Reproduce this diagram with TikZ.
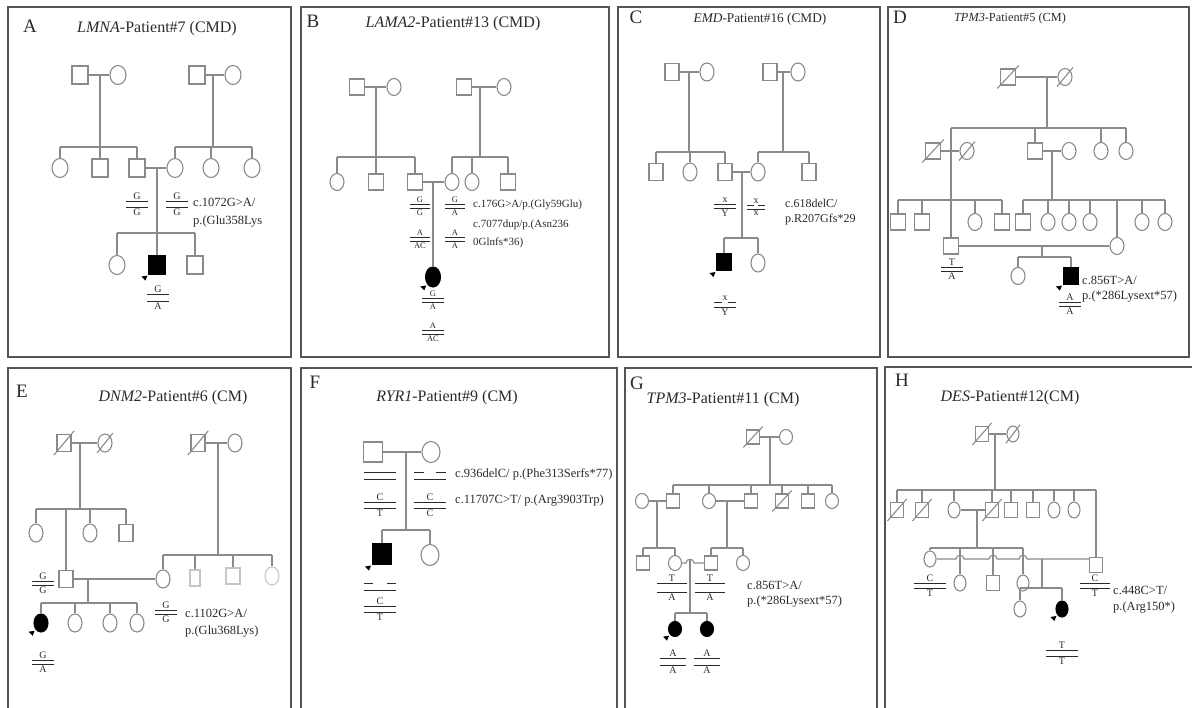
\documentclass[tikz,border=0pt]{standalone}
\usepackage{fontspec}
\setmainfont{Liberation Serif}
\usepackage{tikz}
\usetikzlibrary{shapes.geometric, calc}

\definecolor{pedgray}{HTML}{8A8A8A}
\definecolor{framegray}{HTML}{555555}
\definecolor{inkgray}{HTML}{2A2A2A}

\tikzstyle{male} = [rectangle, draw=pedgray, line width=1.1pt, inner sep=0pt, minimum width=16pt, minimum height=17pt]
\tikzstyle{female} = [ellipse, draw=pedgray, line width=1.1pt, inner sep=0pt, minimum width=15pt, minimum height=19pt]
\tikzstyle{affected} = [fill=black, draw=black]
\tikzstyle{faded} = [draw=pedgray!50]
\tikzstyle{link} = [draw=pedgray, line width=1.1pt]
\tikzstyle{dead} = [append after command={(\tikzlastnode.south west) edge[link, shorten <=-4pt, shorten >=-4pt] (\tikzlastnode.north east)}]
\tikzstyle{panel} = [draw=framegray, line width=1.3pt]
\tikzstyle{tag} = [inner sep=0pt, text=inkgray, font=\fontsize{19}{19}\selectfont]
\tikzstyle{title} = [inner sep=0pt, text=inkgray, font=\fontsize{16}{16}\selectfont]
\tikzstyle{note} = [inner sep=0pt, anchor=west, text=inkgray, font=\fontsize{12.5}{12.5}\selectfont]
\tikzstyle{allele} = [inner sep=0pt, text=inkgray, font=\fontsize{10}{10}\selectfont]
\tikzstyle{bar} = [draw=inkgray, line width=0.9pt]

% genotype: letter, double bar, letter
\newcommand{\genow}{11}
\newcommand{\genog}{5}
\tikzset{
  gw/.code={\def\genow{#1}},
  gg/.code={\def\genog{#1}},
  firstbar/.style={},
  pics/geno/.style 2 args={code={
    \node[allele, anchor=south] (-up) at (0,-1.5) {#1};
    \draw[bar, firstbar] (-\genow,0) -- (\genow,0);
    \draw[bar] (-\genow,\genog) -- (\genow,\genog);
    \node[allele, anchor=north] (-down) at (0,\genog+1.5) {#2};
  }}
}

% sibship line: #1 level coordinate, #2 first, #3 last, #4 children
\newcommand{\sibline}[4]{%
  \draw[link] (#2 |- #1) -- (#3 |- #1);
  \foreach \k in {#4} \draw[link] (\k) -- (\k |- #1);
}
% proband pointer
\newcommand{\pointer}[1]{\fill[black] ($(#1.south west)+(-1,1)$) -- +(-6,1) -- +(-2,5) -- cycle;}

\begin{document}
\begin{tikzpicture}[x=1pt, y=-1pt]
\useasboundingbox (0,0) rectangle (1192,708);
\clip (0,0) rectangle (1192,708);

% ---------------- A
\draw[panel] (8,7) rectangle (291,357);
\node[tag] (tagA) at (30,26) {A};
\node[title] (titleA) at (157,29) {\textit{LMNA}-Patient\#7 (CMD)};
\begin{scope}[male/.append style={minimum width=16pt, minimum height=18pt}, female/.append style={minimum width=16pt, minimum height=19pt}]
\node[male] (a11) at (80,75) {};
\node[female] (a12) at (118,75) {};
\node[male] (a13) at (197,75) {};
\node[female] (a14) at (233,75) {};
\node[female] (a21) at (60,168) {};
\node[male] (a22) at (100,168) {};
\node[male] (a23) at (137,168) {};
\node[female] (a24) at (175,168) {};
\node[female] (a25) at (211,168) {};
\node[female] (a26) at (252,168) {};
\node[female] (a31) at (117,265) {};
\node[male, affected] (a32) at (157,265) {};
\node[male] (a33) at (195,265) {};
\end{scope}
\coordinate (ma1) at (100,75); \coordinate (sa1) at (100,147);
\coordinate (ma2) at (213,75); \coordinate (sa2) at (213,147);
\coordinate (ma3) at (157,168); \coordinate (sa3) at (157,233);
\draw[link] (a11) -- (a12);
\draw[link] (a13) -- (a14);
\draw[link] (a23) -- (a24);
\draw[link] (ma1) -- (sa1);
\draw[link] (ma2) -- (sa2);
\draw[link] (ma3) -- (sa3);
\sibline{sa1}{a21}{a23}{a21,a22,a23}
\sibline{sa2}{a24}{a26}{a24,a25,a26}
\sibline{sa3}{a31}{a33}{a31,a32,a33}
\pointer{a32}
\pic[gg=6] (ga1) at (137,201) {geno={G}{G}};
\pic[gg=6] (ga2) at (177,201) {geno={G}{G}};
\pic[gg=7] (ga3) at (158,294) {geno={G}{A}};
\node[note] (na1) at (193,202) {c.1072G>A/};
\node[note] (na2) at (193,222) {p.(Glu358Lys};

% ---------------- B
\draw[panel] (301,7) rectangle (609,357);
\node[tag] (tagB) at (313,21) {B};
\node[title] (titleB) at (453,24) {\textit{LAMA2}-Patient\#13 (CMD)};
\begin{scope}[male/.append style={minimum width=15pt, minimum height=16pt}, female/.append style={minimum width=14pt, minimum height=17pt}]
\node[male] (b11) at (357,87) {};
\node[female] (b12) at (394,87) {};
\node[male] (b13) at (464,87) {};
\node[female] (b14) at (504,87) {};
\node[female] (b21) at (337,182) {};
\node[male] (b22) at (376,182) {};
\node[male] (b23) at (415,182) {};
\node[female] (b24) at (452,182) {};
\node[female] (b25) at (472,182) {};
\node[male] (b26) at (508,182) {};
\node[female, affected, minimum width=15pt, minimum height=20pt] (b31) at (433,277) {};
\end{scope}
\coordinate (mb1) at (376,87); \coordinate (sb1) at (376,157);
\coordinate (mb2) at (480,87); \coordinate (sb2) at (480,157);
\coordinate (mb3) at (433,182);
\draw[link] (b11) -- (b12);
\draw[link] (b13) -- (b14);
\draw[link] (b23) -- (b24);
\draw[link] (mb1) -- (sb1);
\draw[link] (mb2) -- (sb2);
\draw[link] (mb3) -- (b31);
\sibline{sb1}{b21}{b23}{b21,b22,b23}
\sibline{sb2}{b24}{b26}{b24,b25,b26}
\pointer{b31}
\begin{scope}[allele/.append style={font=\fontsize{8.5}{8.5}\selectfont}]
\pic[gw=10, gg=4] (gb1) at (420,204) {geno={G}{G}};
\pic[gw=10, gg=4] (gb2) at (420,237) {geno={A}{AC}};
\pic[gw=10, gg=4] (gb3) at (455,204) {geno={G}{A}};
\pic[gw=10, gg=4] (gb4) at (455,237) {geno={A}{A}};
\pic[gw=11, gg=4] (gb5) at (433,298) {geno={G}{A}};
\pic[gw=11, gg=4] (gb6) at (433,330) {geno={A}{AC}};
\end{scope}
\begin{scope}[note/.append style={font=\fontsize{11}{11}\selectfont}]
\node[note] (nb1) at (473,205) {c.176G>A/p.(Gly59Glu)};
\node[note] (nb2) at (473,225) {c.7077dup/p.(Asn236};
\node[note] (nb3) at (473,243) {0Glnfs*36)};
\end{scope}

% ---------------- C
\draw[panel] (618,7) rectangle (880,357);
\node[tag] (tagC) at (636,17) {C};
\node[title, font=\fontsize{13.3}{13.3}\selectfont] (titleC) at (760,19) {\textit{EMD}-Patient\#16 (CMD)};
\begin{scope}[male/.append style={minimum width=14pt, minimum height=17pt}, female/.append style={minimum width=14pt, minimum height=18pt}]
\node[male] (c11) at (672,72) {};
\node[female] (c12) at (707,72) {};
\node[male] (c13) at (770,72) {};
\node[female] (c14) at (798,72) {};
\node[male] (c21) at (656,172) {};
\node[female] (c22) at (690,172) {};
\node[male] (c23) at (725,172) {};
\node[female] (c24) at (758,172) {};
\node[male] (c25) at (809,172) {};
\node[male, affected] (c31) at (724,262) {};
\node[female] (c32) at (758,263) {};
\end{scope}
\coordinate (mc1) at (689,72); \coordinate (sc1) at (689,152);
\coordinate (mc2) at (783,72); \coordinate (sc2) at (783,152);
\coordinate (mc3) at (742,172); \coordinate (sc3) at (742,238);
\draw[link] (c11) -- (c12);
\draw[link] (c13) -- (c14);
\draw[link] (c23) -- (c24);
\draw[link] (mc1) -- (sc1);
\draw[link] (mc2) -- (sc2);
\draw[link] (mc3) -- (sc3);
\sibline{sc1}{c21}{c23}{c21,c22,c23}
\sibline{sc2}{c24}{c25}{c24,c25}
\sibline{sc3}{c31}{c32}{c31,c32}
\pointer{c31}
\pic[gw=11, gg=4] (gc1) at (725,204) {geno={x}{Y}};
\pic[gw=9, gg=4, firstbar/.style={dash pattern=on 7pt off 4pt}] (gc2) at (756,205) {geno={x}{x}};
\pic[gw=11, gg=5, firstbar/.style={dash pattern=on 8pt off 6pt}] (gc3) at (725,302) {geno={x}{Y}};
\begin{scope}[note/.append style={font=\fontsize{12}{12}\selectfont}]
\node[note] (nc1) at (785,203) {c.618delC/};
\node[note] (nc2) at (785,220) {p.R207Gfs*29};
\end{scope}

% ---------------- D
\draw[panel] (888,7) rectangle (1189,357);
\node[tag] (tagD) at (900,17) {D};
\node[title, font=\fontsize{12.3}{12.3}\selectfont] (titleD) at (1010,19) {\textit{TPM3}-Patient\#5 (CM)};
\begin{scope}[male/.append style={minimum width=15pt, minimum height=16pt}, female/.append style={minimum width=14pt, minimum height=17pt}]
\node[male, dead] (d11) at (1008,77) {};
\node[female, dead] (d12) at (1065,77) {};
\node[male, dead] (d21) at (933,151) {};
\node[female, dead] (d22) at (967,151) {};
\node[male] (d23) at (1035,151) {};
\node[female] (d24) at (1069,151) {};
\node[female] (d25) at (1101,151) {};
\node[female] (d26) at (1126,151) {};
\node[male] (d31) at (898,222) {};
\node[male] (d32) at (922,222) {};
\node[female] (d33) at (975,222) {};
\node[male] (d34) at (1002,222) {};
\node[male] (d35) at (951,246) {};
\node[male] (d36) at (1023,222) {};
\node[female] (d37) at (1048,222) {};
\node[female] (d38) at (1069,222) {};
\node[female] (d39) at (1090,222) {};
\node[female] (d3c) at (1117,246) {};
\node[female] (d3a) at (1142,222) {};
\node[female] (d3b) at (1165,222) {};
\node[female] (d41) at (1018,276) {};
\node[male, affected] (d42) at (1071,276) {};
\end{scope}
\coordinate (md1) at (1047,77); \coordinate (sd1) at (1047,128);
\coordinate (sd0) at (951,128); \coordinate (sd2) at (951,200);
\coordinate (md3) at (1052,151); \coordinate (sd3) at (1052,200);
\coordinate (md4) at (1042,246); \coordinate (sd4) at (1042,257);
\draw[link] (d11) -- (d12);
\draw[link] (d21) -- (d22);
\draw[link] (d23) -- (d24);
\draw[link] (d35) -- (d3c);
\draw[link] (md1) -- (sd1);
\draw[link] (sd0) -- (sd2);
\draw[link] (md3) -- (sd3);
\draw[link] (md4) -- (sd4);
\draw[link] (sd0) -- (d26 |- sd0);
\foreach \k in {d23,d25,d26} \draw[link] (\k) -- (\k |- sd0);
\sibline{sd2}{d31}{d34}{d31,d32,d33,d34,d35}
\sibline{sd3}{d36}{d3b}{d36,d37,d38,d39,d3c,d3a,d3b}
\sibline{sd4}{d41}{d42}{d41,d42}
\pointer{d42}
\pic[gw=11, gg=4] (gd1) at (952,267) {geno={T}{A}};
\pic[gw=11, gg=4] (gd2) at (1070,302) {geno={A}{A}};
\node[note] (nd1) at (1082,280) {c.856T>A/};
\node[note] (nd2) at (1082,297) {p.(*286Lysext*57)};

% ---------------- E
\draw[panel] (8,368) rectangle (291,715);
\node[tag] (tagE) at (22,391) {E};
\node[title] (titleE) at (173,398) {\textit{DNM2}-Patient\#6 (CM)};
\begin{scope}[male/.append style={minimum width=14pt, minimum height=17pt}, female/.append style={minimum width=14pt, minimum height=18pt}]
\node[male, dead] (e11) at (64,443) {};
\node[female, dead] (e12) at (105,443) {};
\node[male, dead] (e13) at (198,443) {};
\node[female] (e14) at (235,443) {};
\node[female] (e21) at (36,533) {};
\node[female] (e23) at (90,533) {};
\node[male] (e24) at (126,533) {};
\node[male] (e22) at (66,579) {};
\node[female] (e25) at (163,579) {};
\node[male, faded, minimum width=10pt, minimum height=16pt] (e26) at (195,578) {};
\node[male, faded, minimum height=16pt] (e27) at (233,576) {};
\node[female, faded] (e28) at (272,576) {};
\node[female, affected] (e31) at (41,623) {};
\node[female] (e32) at (75,623) {};
\node[female] (e33) at (110,623) {};
\node[female] (e34) at (137,623) {};
\end{scope}
\coordinate (me1) at (80,443); \coordinate (se1) at (80,509);
\coordinate (me2) at (218,443); \coordinate (se2) at (218,555);
\coordinate (me3) at (88,579); \coordinate (se3) at (88,603);
\draw[link] (e11) -- (e12);
\draw[link] (e13) -- (e14);
\draw[link] (e22) -- (e25);
\draw[link] (me1) -- (se1);
\draw[link] (me2) -- (se2);
\draw[link] (me3) -- (se3);
\sibline{se1}{e21}{e24}{e21,e22,e23,e24}
\sibline{se2}{e25}{e28}{e25,e26,e27,e28}
\sibline{se3}{e31}{e34}{e31,e32,e33,e34}
\pointer{e31}
\pic[gw=11, gg=4] (ge1) at (43,581) {geno={G}{G}};
\pic[gw=11, gg=4] (ge2) at (166,610) {geno={G}{G}};
\pic[gw=11, gg=4] (ge3) at (43,660) {geno={G}{A}};
\node[note] (ne1) at (185,613) {c.1102G>A/};
\node[note] (ne2) at (185,632) {p.(Glu368Lys)};

% ---------------- F
\draw[panel] (301,368) rectangle (617,715);
\node[tag] (tagF) at (315,382) {F};
\node[title] (titleF) at (447,398) {\textit{RYR1}-Patient\#9 (CM)};
\begin{scope}[male/.append style={minimum width=19pt, minimum height=20pt}, female/.append style={minimum width=18pt, minimum height=21pt}]
\node[male] (f11) at (373,452) {};
\node[female] (f12) at (431,452) {};
\node[male, affected] (f21) at (382,554) {};
\node[female] (f22) at (430,555) {};
\end{scope}
\coordinate (mf1) at (406,452); \coordinate (sf1) at (406,530);
\draw[link] (f11) -- (f12);
\draw[link] (mf1) -- (sf1);
\sibline{sf1}{f21}{f22}{f21,f22}
\pointer{f21}
\pic[gw=16, gg=7] (gf1) at (380,472) {geno={}{}};
\pic[gw=16, gg=6] (gf2) at (380,502) {geno={C}{T}};
\pic[gw=16, gg=7, firstbar/.style={dash pattern=on 10pt off 12pt}] (gf3) at (430,472) {geno={}{}};
\pic[gw=16, gg=6] (gf4) at (430,502) {geno={C}{C}};
\pic[gw=16, gg=7, firstbar/.style={dash pattern=on 9pt off 14pt}] (gf5) at (380,583) {geno={}{}};
\pic[gw=16, gg=6] (gf6) at (380,606) {geno={C}{T}};
\node[note] (nf1) at (455,474) {c.936delC/ p.(Phe313Serfs*77)};
\node[note] (nf2) at (455,501) {c.11707C>T/ p.(Arg3903Trp)};

% ---------------- G
\draw[panel] (625,368) rectangle (877,715);
\node[tag] (tagG) at (637,383) {G};
\node[title] (titleG) at (723,400) {\textit{TPM3}-Patient\#11 (CM)};
\begin{scope}[male/.append style={minimum width=13pt, minimum height=14pt}, female/.append style={minimum width=13pt, minimum height=15pt}]
\node[male, dead] (g11) at (753,437) {};
\node[female] (g12) at (786,437) {};
\node[female] (g21) at (642,501) {};
\node[male] (g22) at (673,501) {};
\node[female] (g23) at (709,501) {};
\node[male] (g24) at (751,501) {};
\node[male, dead] (g25) at (782,501) {};
\node[male] (g26) at (808,501) {};
\node[female] (g27) at (832,501) {};
\node[male] (g31) at (643,563) {};
\node[female] (g32) at (675,563) {};
\node[male] (g33) at (711,563) {};
\node[female] (g34) at (743,563) {};
\node[female, affected] (g41) at (675,629) {};
\node[female, affected] (g42) at (707,629) {};
\end{scope}
\coordinate (mg1) at (770,437); \coordinate (sg1) at (770,485);
\coordinate (mg2) at (657,501); \coordinate (sg2) at (657,548);
\coordinate (mg3) at (727,501); \coordinate (sg3) at (727,548);
\coordinate (mg4) at (690,559); \coordinate (sg4) at (690,613);
\draw[link] (g11) -- (g12);
\draw[link] (g21) -- (g22);
\draw[link] (g23) -- (g24);
\draw[link] (g32) -- (686,563) .. controls (686,558) and (694,558) .. (694,563) -- (g33);
\draw[link] (mg1) -- (sg1);
\draw[link] (mg2) -- (sg2);
\draw[link] (mg3) -- (sg3);
\draw[link] (mg4) -- (sg4);
\sibline{sg1}{g22}{g27}{g22,g23,g24,g25,g26,g27}
\sibline{sg2}{g31}{g32}{g31,g32}
\sibline{sg3}{g33}{g34}{g33,g34}
\sibline{sg4}{g41}{g42}{g41,g42}
\pointer{g41}
\pic[gw=15, gg=9] (gg1) at (672,583) {geno={T}{A}};
\pic[gw=15, gg=9] (gg2) at (710,583) {geno={T}{A}};
\pic[gw=13, gg=7] (gg3) at (673,658) {geno={A}{A}};
\pic[gw=13, gg=7] (gg4) at (707,658) {geno={A}{A}};
\node[note] (ng1) at (747,585) {c.856T>A/};
\node[note] (ng2) at (747,602) {p.(*286Lysext*57)};

% ---------------- H
\draw[panel] (885,367) rectangle (1198,715);
\node[tag] (tagH) at (902,380) {H};
\node[title] (titleH) at (1010,398) {\textit{DES}-Patient\#12(CM)};
\begin{scope}[male/.append style={minimum width=13pt, minimum height=15pt}, female/.append style={minimum width=12pt, minimum height=16pt}]
\node[male, dead] (h11) at (982,434) {};
\node[female, dead] (h12) at (1013,434) {};
\node[male, dead] (h21) at (897,510) {};
\node[male, dead] (h22) at (922,510) {};
\node[female] (h23) at (954,510) {};
\node[male, dead] (h24) at (992,510) {};
\node[male] (h25) at (1011,510) {};
\node[male] (h26) at (1033,510) {};
\node[female] (h27) at (1054,510) {};
\node[female] (h28) at (1074,510) {};
\node[male] (h29) at (1096,565) {};
\node[female] (h31) at (930,559) {};
\node[female] (h32) at (960,583) {};
\node[male] (h33) at (993,583) {};
\node[female] (h34) at (1023,583) {};
\node[female] (h41) at (1020,609) {};
\node[female, affected] (h42) at (1062,609) {};
\end{scope}
\coordinate (mh1) at (995,434); \coordinate (sh1) at (995,490);
\coordinate (mh2) at (977,510); \coordinate (sh2) at (977,548);
\coordinate (mh3) at (1042,559); \coordinate (sh3) at (1042,588);
\draw[link] (h11) -- (h12);
\draw[link] (h23) -- (h24);
\draw[link] (h31) -- (956,559) .. controls (956,554) and (964,554) .. (964,559)
  -- (989,559) .. controls (989,554) and (997,554) .. (997,559)
  -- (1019,559) .. controls (1019,554) and (1027,554) .. (1027,559)
  -- (h31 -| h29.west);
\draw[link] (mh1) -- (sh1);
\draw[link] (mh2) -- (sh2);
\draw[link] (mh3) -- (sh3);
\sibline{sh1}{h21}{h29}{h21,h22,h23,h24,h25,h26,h27,h28,h29}
\sibline{sh2}{h31}{h34}{h31,h32,h33,h34}
\sibline{sh3}{h41}{h42}{h41,h42}
\pointer{h42}
\pic[gw=16, gg=5] (gh1) at (930,583) {geno={C}{T}};
\pic[gw=15, gg=5] (gh2) at (1095,583) {geno={C}{T}};
\pic[gw=16, gg=6] (gh3) at (1062,650) {geno={T}{T}};
\node[note] (nh1) at (1113,590) {c.448C>T/};
\node[note] (nh2) at (1113,608) {p.(Arg150*)};
\end{tikzpicture}
\end{document}
